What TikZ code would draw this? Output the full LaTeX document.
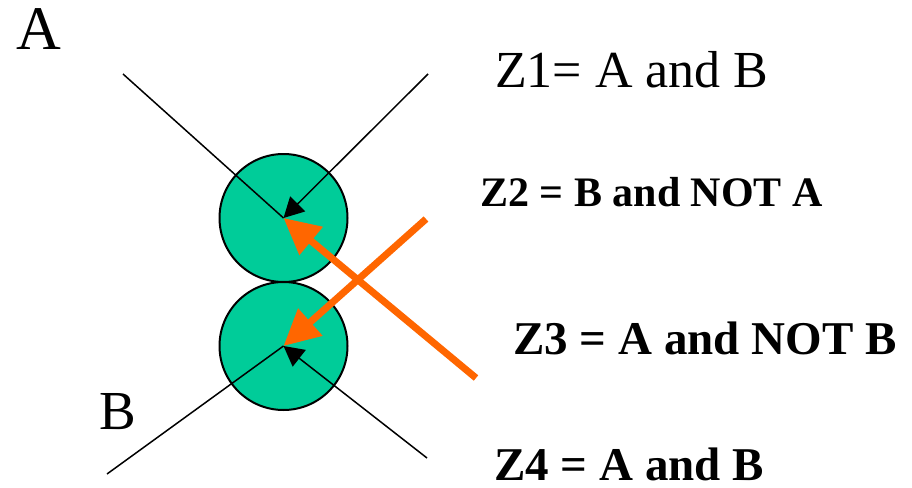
\documentclass[tikz,border=0pt]{standalone}
\usepackage{fontspec}
\setmainfont{Liberation Serif}
\usetikzlibrary{arrows.meta}
\definecolor{zgreen}{RGB}{0,204,153}
\definecolor{zorange}{RGB}{255,102,0}
\begin{document}
\begin{tikzpicture}[x=1pt,y=-1pt,
  zone/.style={circle,draw=black,line width=2pt,fill=zgreen,minimum size=128pt,inner sep=0pt},
  ray/.style={draw=black,line width=1.5pt},
  rayarrow/.style={ray,-{Triangle[length=20pt,width=21pt]}},
  bigarrow/.style={draw=zorange,line width=7pt,-{Triangle[length=36pt,width=35pt]}},
  lbl/.style={anchor=base west,inner sep=0pt,text depth=0pt}]
\useasboundingbox (0,0) rectangle (912,487);
% circles
\node[zone] (top) at (283.5,218) {};
\node[zone] (bot) at (283.5,346) {};
% free ends
\coordinate (tl) at (123,74);
\coordinate (tr) at (428,74);
\coordinate (bl) at (107,474);
\coordinate (br) at (427,458);
\coordinate (o1) at (426,219);
\coordinate (o2) at (476,378);
% rays
\draw[ray] (tl) -- (top.center);
\draw[rayarrow] (tr) -- (top.center);
\draw[ray] (bl) -- (bot.center);
\draw[rayarrow] (br) -- (bot.center);
% orange arrows
\draw[bigarrow] (o1) -- (bot.center);
\draw[bigarrow] (o2) -- (top.center);
% labels
\node[lbl,font=\fontsize{62}{62}\selectfont] (la) at (16,49) {A};
\node[lbl,font=\fontsize{55}{55}\selectfont] (lb) at (99,429) {B};
\node[lbl,font=\fontsize{52}{52}\selectfont] (z1) at (495,87) {Z1= A and B};
\node[lbl,font=\fontsize{42}{42}\selectfont\bfseries] (z2) at (480,206) {Z2 = B and NOT A};
\node[lbl,font=\fontsize{47}{47}\selectfont\bfseries] (z3) at (513,354) {Z3 = A and NOT B};
\node[lbl,font=\fontsize{47}{47}\selectfont\bfseries] (z4) at (494,480) {Z4 = A and B};
\end{tikzpicture}
\end{document}
